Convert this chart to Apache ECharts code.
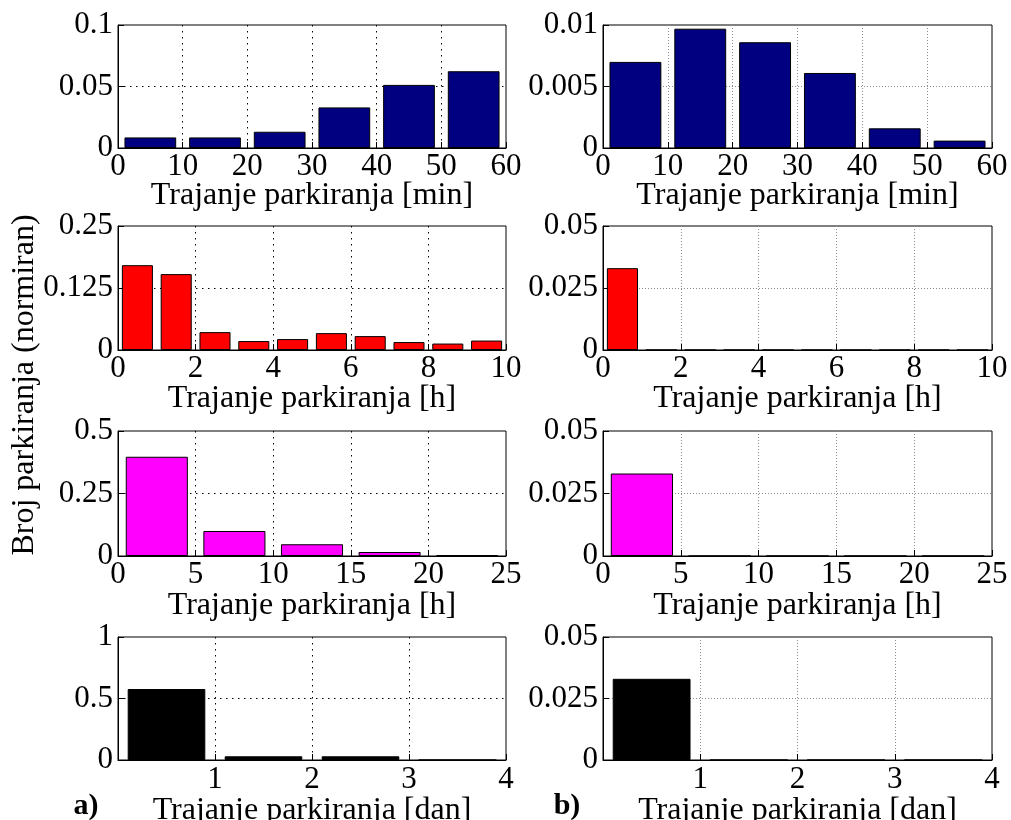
<!DOCTYPE html>
<html><head><meta charset="utf-8">
<script src="https://cdn.jsdelivr.net/npm/echarts@6/dist/echarts.min.js"></script>
<style>html,body{margin:0;padding:0;background:#fff}#c{width:1011px;height:820px}</style>
</head><body><div id="c"></div>
<script>
// ---- data ----
const binsMin = [5, 15, 25, 35, 45, 55];
const binsHour10 = [0.5, 1.5, 2.5, 3.5, 4.5, 5.5, 6.5, 7.5, 8.5, 9.5];
const binsHour25 = [2.5, 7.5, 12.5, 17.5, 22.5];
const binsDay = [0.5, 1.5, 2.5, 3.5];

const aMin = [0.0086, 0.0086, 0.0132, 0.033, 0.0513, 0.0624];
const bMin = [0.0070, 0.0097, 0.0086, 0.0061, 0.0016, 0.0006];
const aHour10 = [0.171, 0.153, 0.036, 0.018, 0.022, 0.034, 0.028, 0.016, 0.013, 0.019];
const bHour10 = [0.033, 0, 0, 0, 0, 0, 0, 0, 0, 0];
const aHour25 = [0.397, 0.100, 0.047, 0.016, 0.004];
const bHour25 = [0.033, 0, 0, 0, 0];
const aDay = [0.577, 0.03, 0.03, 0];
const bDay = [0.033, 0, 0, 0];

const xNames = ['Trajanje parkiranja [min]', 'Trajanje parkiranja [h]', 'Trajanje parkiranja [h]', 'Trajanje parkiranja [dan]'];
const xMax = [60, 10, 25, 4];
const xStep = [10, 2, 5, 1];
const yMaxA = [0.1, 0.25, 0.5, 1];
const yMaxB = [0.01, 0.05, 0.05, 0.05];
const rowColors = ['#000080', '#ff0000', '#ff00ff', '#000000'];
const yLabel = 'Broj parkiranja (normiran)';

// ---- layout ----
const FONT = 'Liberation Serif';
const rowTop = [25, 226, 431, 637];
const rowH = [123, 124, 125, 123];
const colLeft = [118, 603];
const colW = [388, 389];
const nameGaps = [32, 33, 34, 35];
const labelMargins = [3, 3, 3, 4];

const bins = [binsMin, binsHour10, binsHour25, binsDay];
const valsA = [aMin, aHour10, aHour25, aDay];
const valsB = [bMin, bHour10, bHour25, bDay];

const grids = [], xAxes = [], yAxes = [], series = [];
let gi = 0;
for (let r = 0; r < 4; r++) {
  for (let c = 0; c < 2; c++) {
    const yMax = c === 0 ? yMaxA[r] : yMaxB[r];
    const vals = c === 0 ? valsA[r] : valsB[r];
    const gridColor = c === 0 ? '#000' : '#8a8a8a';
    const dash = c === 0 ? [1.5, 4.5] : [1, 2];
    grids.push({left: colLeft[c], top: rowTop[r], width: colW[c], height: rowH[r],
      outerBoundsMode: 'none', containLabel: false,
      show: true, borderColor: '#000', borderWidth: 1, backgroundColor: 'transparent'});
    const isDay = r === 3;
    xAxes.push({gridIndex: gi, type: 'value', min: 0, max: xMax[r], interval: xStep[r],
      name: xNames[r], nameLocation: 'middle', nameGap: nameGaps[r], nameMoveOverlap: false,
      nameTextStyle: {fontFamily: FONT, fontSize: 32, color: '#000'},
      axisLine: {show: true, lineStyle: {color: '#000', width: 1}},
      axisTick: {show: true, inside: true, length: 6, lineStyle: {color: '#000'}},
      axisLabel: {show: true, margin: labelMargins[r], fontFamily: FONT, fontSize: 31, color: '#000',
        showMinLabel: true, showMaxLabel: true,
        formatter: function (v) { return (isDay && v === 0) ? '' : String(v); }},
      splitLine: {show: true, showMinLine: false, showMaxLine: false, lineStyle: {color: gridColor, type: dash, width: 1}}
    });
    yAxes.push({gridIndex: gi, type: 'value', min: 0, max: yMax, interval: yMax / 2,
      axisLine: {show: true, lineStyle: {color: '#000', width: 1}},
      axisTick: {show: true, inside: true, length: 6, lineStyle: {color: '#000'}},
      axisLabel: {show: true, margin: 5, fontFamily: FONT, fontSize: 31, color: '#000',
        showMinLabel: true, showMaxLabel: true,
        formatter: function (v) { return String(parseFloat(v.toPrecision(6))); }},
      splitLine: {show: true, showMinLine: false, showMaxLine: false, lineStyle: {color: gridColor, type: dash, width: 1}}
    });
    series.push({type: 'bar', xAxisIndex: gi, yAxisIndex: gi, barWidth: '80%',
      data: bins[r].map((b, i) => [b, vals[i]]),
      itemStyle: {color: rowColors[r], borderColor: '#000', borderWidth: 1},
      silent: true, animation: false, z: 1});
    gi++;
  }
}

const chart = echarts.init(document.getElementById('c'), null, {renderer: 'canvas'});
chart.setOption({
  animation: false,
  backgroundColor: '#fff',
  grid: grids, xAxis: xAxes, yAxis: yAxes, series: series,
  graphic: [
    {type: 'text', x: 25, y: 385, rotation: Math.PI / 2,
      style: {text: yLabel, fontFamily: FONT, fontSize: 32, fill: '#000', align: 'center', verticalAlign: 'middle'}},
    {type: 'text', x: 86, y: 806,
      style: {text: 'a)', fontFamily: FONT, fontSize: 30, fontWeight: 'bold', fill: '#000', align: 'center', verticalAlign: 'middle'}},
    {type: 'text', x: 567, y: 806,
      style: {text: 'b)', fontFamily: FONT, fontSize: 30, fontWeight: 'bold', fill: '#000', align: 'center', verticalAlign: 'middle'}}
  ]
});
</script></body></html>
